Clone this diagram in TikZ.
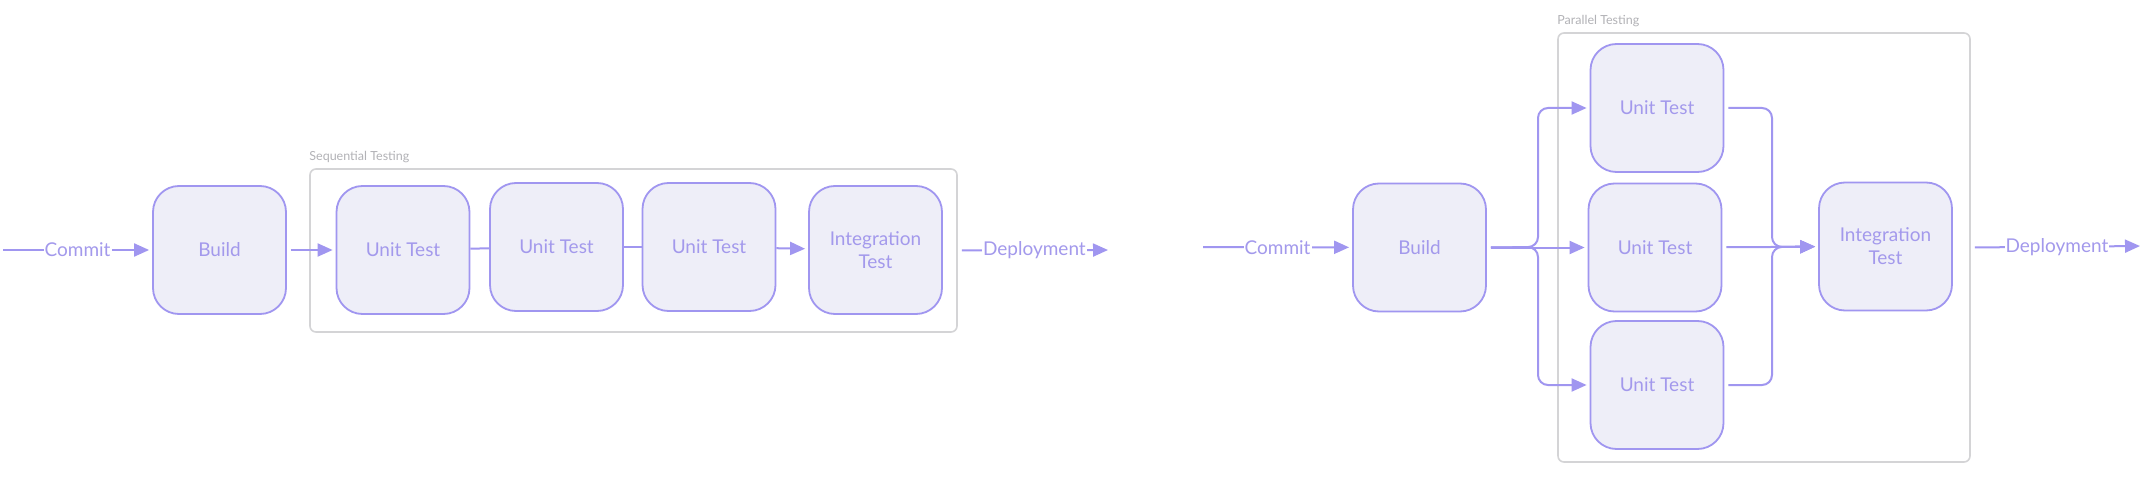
\documentclass[tikz,border=0pt]{standalone}
\usepackage{fontspec}
\setmainfont{Lato}
\usetikzlibrary{arrows.meta}
\definecolor{stepline}{RGB}{160,150,240}
\definecolor{stepfill}{RGB}{238,238,248}
\definecolor{steptext}{RGB}{163,153,236}
\definecolor{groupline}{RGB}{212,212,214}
\definecolor{grouptext}{RGB}{178,178,182}
\begin{document}
\begin{tikzpicture}[x=1pt,y=-1pt,
    stage/.style={draw=stepline,line width=1.8pt,fill=stepfill,rounded corners=26pt,
      minimum width=133pt,minimum height=128pt,inner sep=0pt,align=center,
      text=steptext,font=\fontsize{19}{23}\selectfont},
    group/.style={draw=groupline,line width=1.6pt,rounded corners=6pt},
    grouplbl/.style={anchor=south west,inner sep=0pt,yshift=5pt,text=grouptext,
      font=\fontsize{12.5}{14}\selectfont},
    link/.style={draw=stepline,line width=2pt},
    flow/.style={link,-{Triangle[length=15pt,width=13pt]},shorten >=3pt},
    edgelbl/.style={fill=white,inner sep=1pt,text=steptext,font=\fontsize{19}{23}\selectfont}]
  \useasboundingbox[fill=white] (0,0) rectangle (2156,492);

  % sequential testing
  \node[group,minimum width=647pt,minimum height=163pt] (seq) at (633.5,250.5) {};
  \node[grouplbl] at (seq.north west) {Sequential Testing};
  \coordinate (lstart) at (3,250);
  \coordinate (ldeploy) at (1111,250);
  \node[stage] (lbuild) at (219.5,250) {Build};
  \node[stage] (ut1) at (403,250) {Unit Test};
  \node[stage] (ut2) at (556.5,247) {Unit Test};
  \node[stage] (ut3) at (709,247) {Unit Test};
  \node[stage] (lit) at (875.5,250) {Integration\\Test};
  \draw[flow] (lstart) -- node[edgelbl]{Commit} (lbuild);
  \draw[flow,shorten <=4pt] (lbuild) -- (ut1);
  \draw[link] (ut1) -- (ut2);
  \draw[link] (ut2) -- (ut3);
  \draw[flow] (ut3) -- (lit);
  \draw[flow,shorten <=4pt] (seq.east) -- node[edgelbl]{Deployment} (ldeploy);

  % parallel testing
  \node[group,minimum width=412pt,minimum height=429pt] (par) at (1764,247.5) {};
  \node[grouplbl] at (par.north west) {Parallel Testing};
  \coordinate (rstart) at (1203,247);
  \coordinate (fork) at (1538,247);
  \coordinate (join) at (1772,247);
  \coordinate (rdeploy) at (2143,246);
  \node[stage] (rbuild) at (1419.5,247.5) {Build};
  \node[stage] (pa) at (1657,108) {Unit Test};
  \node[stage] (pb) at (1655,247.5) {Unit Test};
  \node[stage] (pc) at (1657,385) {Unit Test};
  \node[stage] (rit) at (1885.5,246.5) {Integration\\Test};
  \draw[flow] (rstart) -- node[edgelbl]{Commit} (rbuild);
  \draw[flow,shorten <=4pt] (rbuild) -- (pb);
  \draw[flow,shorten <=4pt,rounded corners=10pt] (rbuild.east) -- (fork) |- (pa.west);
  \draw[flow,shorten <=4pt,rounded corners=10pt] (rbuild.east) -- (fork) |- (pc.west);
  \draw[flow,shorten <=4pt] (pb) -- (rit);
  \draw[flow,shorten <=4pt,rounded corners=10pt] (pa.east) -| (join) -- (rit.west);
  \draw[flow,shorten <=4pt,rounded corners=10pt] (pc.east) -| (join) -- (rit.west);
  \draw[flow,shorten <=4pt] (par.east) -- node[edgelbl]{Deployment} (rdeploy);
\end{tikzpicture}
\end{document}
